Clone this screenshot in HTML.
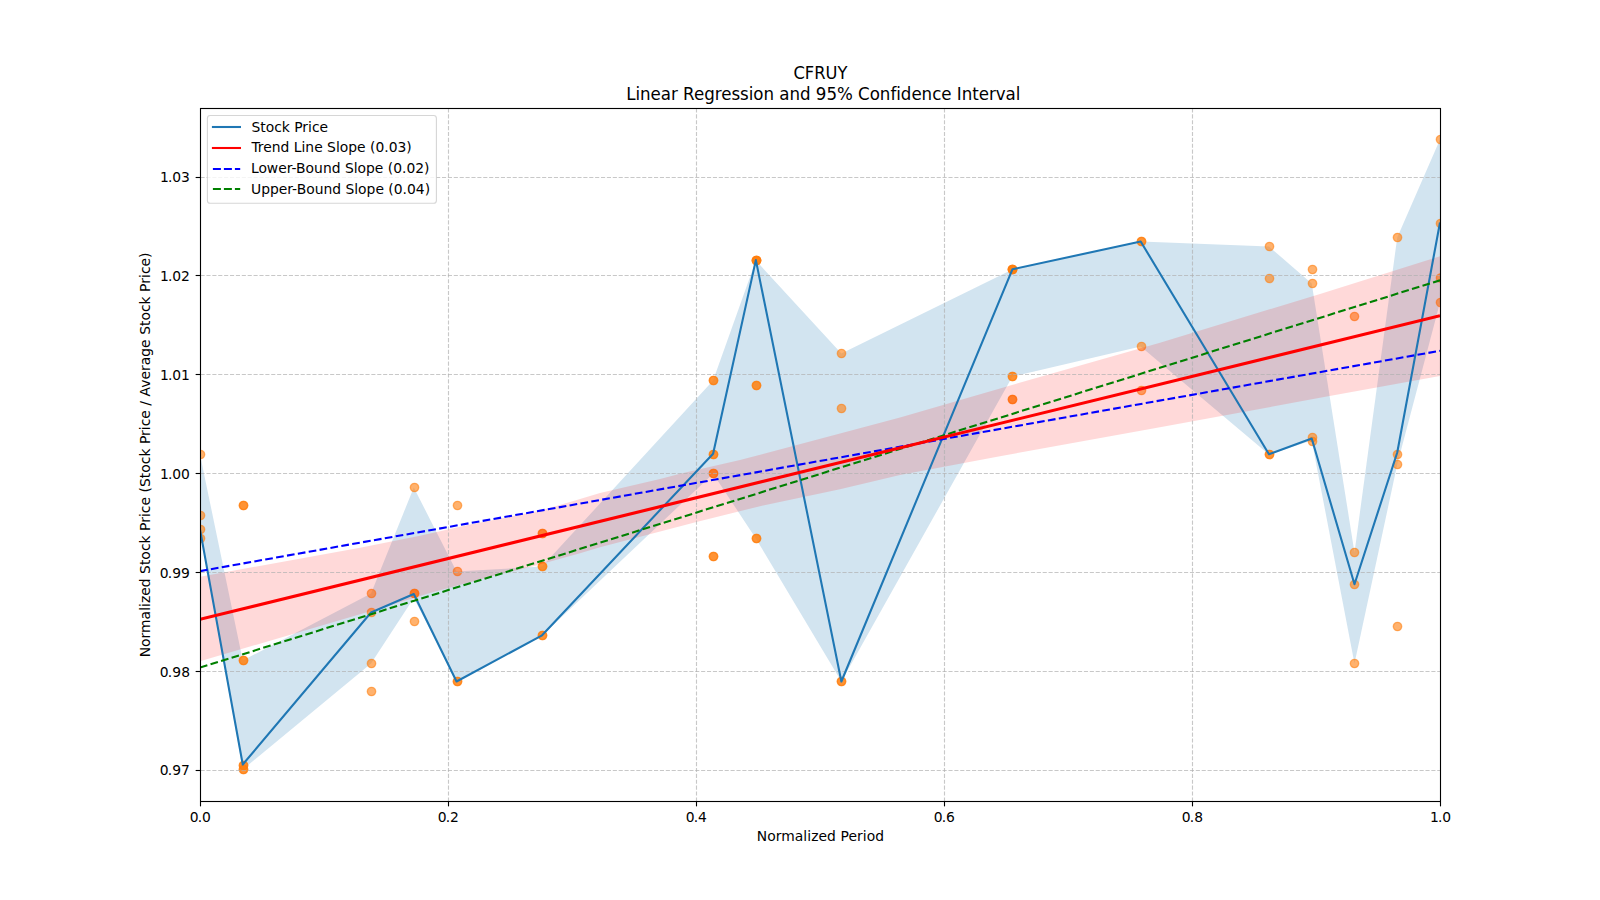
<!DOCTYPE html>
<html lang="en"><head><meta charset="utf-8"><title>CFRUY Linear Regression and 95% Confidence Interval</title>
<style>html,body{margin:0;padding:0;background:#fff;}body{width:1600px;height:900px;overflow:hidden;}svg{display:block;}text{font-family:"DejaVu Sans","Liberation Sans",sans-serif;fill:#000;}</style>
</head><body>
<svg width="1600" height="900" viewBox="0 0 1600 900">
<rect x="0" y="0" width="1600" height="900" fill="#ffffff"/>
<defs><clipPath id="ax"><rect x="200" y="108" width="1240" height="693"/></clipPath></defs>
<g clip-path="url(#ax)">
<polygon points="200.00,454.50 242.76,660.50 371.03,593.50 413.79,487.50 456.55,571.50 542.07,566.50 713.10,380.50 755.86,260.50 841.38,353.50 1012.41,269.50 1140.69,241.50 1268.97,246.50 1311.72,283.50 1354.48,552.50 1397.24,237.50 1440.00,139.50 1440.00,302.50 1397.24,464.50 1354.48,663.50 1311.72,440.50 1268.97,454.50 1140.69,346.50 1012.41,376.50 841.38,681.50 755.86,538.50 713.10,473.70 542.07,635.50 456.55,681.50 413.79,598.00 371.03,663.50 242.76,769.50 200.00,531.00" fill="#1f77b4" fill-opacity="0.2"/>
<g fill="#ff7f0e" fill-opacity="0.6" stroke="#ff7f0e" stroke-opacity="0.6" stroke-width="1.389">
<circle cx="200.5" cy="454.5" r="4.167"/>
<circle cx="200.5" cy="515.5" r="4.167"/>
<circle cx="200.5" cy="529.5" r="4.167"/>
<circle cx="200.5" cy="538.5" r="4.167"/>
<circle cx="243.5" cy="505.5" r="4.167"/>
<circle cx="243.5" cy="505.5" r="4.167"/>
<circle cx="243.5" cy="660.5" r="4.167"/>
<circle cx="243.5" cy="660.5" r="4.167"/>
<circle cx="243.5" cy="765.5" r="4.167"/>
<circle cx="243.5" cy="765.5" r="4.167"/>
<circle cx="243.5" cy="769.5" r="4.167"/>
<circle cx="243.5" cy="769.5" r="4.167"/>
<circle cx="371.5" cy="593.5" r="4.167"/>
<circle cx="371.5" cy="612.5" r="4.167"/>
<circle cx="371.5" cy="663.5" r="4.167"/>
<circle cx="371.5" cy="691.5" r="4.167"/>
<circle cx="414.5" cy="487.5" r="4.167"/>
<circle cx="414.5" cy="593.5" r="4.167"/>
<circle cx="414.5" cy="593.5" r="4.167"/>
<circle cx="414.5" cy="621.5" r="4.167"/>
<circle cx="457.5" cy="505.5" r="4.167"/>
<circle cx="457.5" cy="571.5" r="4.167"/>
<circle cx="457.5" cy="681.5" r="4.167"/>
<circle cx="457.5" cy="681.5" r="4.167"/>
<circle cx="542.5" cy="533.5" r="4.167"/>
<circle cx="542.5" cy="533.5" r="4.167"/>
<circle cx="542.5" cy="566.5" r="4.167"/>
<circle cx="542.5" cy="566.5" r="4.167"/>
<circle cx="542.5" cy="635.5" r="4.167"/>
<circle cx="542.5" cy="635.5" r="4.167"/>
<circle cx="713.5" cy="380.5" r="4.167"/>
<circle cx="713.5" cy="380.5" r="4.167"/>
<circle cx="713.5" cy="454.5" r="4.167"/>
<circle cx="713.5" cy="454.5" r="4.167"/>
<circle cx="713.5" cy="473.5" r="4.167"/>
<circle cx="713.5" cy="473.5" r="4.167"/>
<circle cx="713.5" cy="556.5" r="4.167"/>
<circle cx="713.5" cy="556.5" r="4.167"/>
<circle cx="756.5" cy="260.5" r="4.167"/>
<circle cx="756.5" cy="260.5" r="4.167"/>
<circle cx="756.5" cy="260.5" r="4.167"/>
<circle cx="756.5" cy="260.5" r="4.167"/>
<circle cx="756.5" cy="385.5" r="4.167"/>
<circle cx="756.5" cy="385.5" r="4.167"/>
<circle cx="756.5" cy="538.5" r="4.167"/>
<circle cx="756.5" cy="538.5" r="4.167"/>
<circle cx="841.5" cy="353.5" r="4.167"/>
<circle cx="841.5" cy="408.5" r="4.167"/>
<circle cx="841.5" cy="681.5" r="4.167"/>
<circle cx="841.5" cy="681.5" r="4.167"/>
<circle cx="1012.5" cy="269.5" r="4.167"/>
<circle cx="1012.5" cy="269.5" r="4.167"/>
<circle cx="1012.5" cy="269.5" r="4.167"/>
<circle cx="1012.5" cy="269.5" r="4.167"/>
<circle cx="1012.5" cy="376.5" r="4.167"/>
<circle cx="1012.5" cy="376.5" r="4.167"/>
<circle cx="1012.5" cy="399.5" r="4.167"/>
<circle cx="1012.5" cy="399.5" r="4.167"/>
<circle cx="1141.5" cy="241.5" r="4.167"/>
<circle cx="1141.5" cy="241.5" r="4.167"/>
<circle cx="1141.5" cy="346.5" r="4.167"/>
<circle cx="1141.5" cy="390.5" r="4.167"/>
<circle cx="1269.5" cy="246.5" r="4.167"/>
<circle cx="1269.5" cy="278.5" r="4.167"/>
<circle cx="1269.5" cy="454.5" r="4.167"/>
<circle cx="1269.5" cy="454.5" r="4.167"/>
<circle cx="1312.5" cy="269.5" r="4.167"/>
<circle cx="1312.5" cy="283.5" r="4.167"/>
<circle cx="1312.5" cy="437.5" r="4.167"/>
<circle cx="1312.5" cy="441.5" r="4.167"/>
<circle cx="1354.5" cy="316.5" r="4.167"/>
<circle cx="1354.5" cy="552.5" r="4.167"/>
<circle cx="1354.5" cy="584.5" r="4.167"/>
<circle cx="1354.5" cy="663.5" r="4.167"/>
<circle cx="1397.5" cy="237.5" r="4.167"/>
<circle cx="1397.5" cy="454.5" r="4.167"/>
<circle cx="1397.5" cy="464.5" r="4.167"/>
<circle cx="1397.5" cy="626.5" r="4.167"/>
<circle cx="1440.5" cy="139.5" r="4.167"/>
<circle cx="1440.5" cy="223.5" r="4.167"/>
<circle cx="1440.5" cy="278.0" r="4.167"/>
<circle cx="1440.5" cy="302.5" r="4.167"/>
</g>
<polygon points="200.00,576.80 360.00,547.70 420.00,535.80 470.00,524.60 540.00,510.70 570.00,501.90 600.00,493.00 660.00,479.00 680.00,473.80 740.00,460.00 840.00,433.60 900.00,417.50 1000.00,388.40 1160.00,342.75 1320.00,293.90 1440.00,256.20 1440.00,376.00 1320.00,397.80 1160.00,427.30 1000.00,456.20 900.00,475.00 840.00,489.30 760.00,506.20 696.50,522.00 600.00,547.30 580.00,553.25 535.00,565.75 490.00,576.80 430.00,593.00 360.00,614.20 200.00,661.30" fill="#ff0000" fill-opacity="0.15"/>
<g stroke="#b0b0b0" stroke-opacity="0.7" stroke-width="1.111" stroke-dasharray="4.111 1.778" fill="none">
<line x1="448.5" y1="801.5" x2="448.5" y2="108"/>
<line x1="696.5" y1="801.5" x2="696.5" y2="108"/>
<line x1="944.5" y1="801.5" x2="944.5" y2="108"/>
<line x1="1192.5" y1="801.5" x2="1192.5" y2="108"/>
<line x1="200.55" y1="770.5" x2="1440" y2="770.5"/>
<line x1="200.55" y1="671.5" x2="1440" y2="671.5"/>
<line x1="200.55" y1="572.5" x2="1440" y2="572.5"/>
<line x1="200.55" y1="473.5" x2="1440" y2="473.5"/>
<line x1="200.55" y1="374.5" x2="1440" y2="374.5"/>
<line x1="200.55" y1="275.5" x2="1440" y2="275.5"/>
<line x1="200.55" y1="177.5" x2="1440" y2="177.5"/>
</g>
<polyline points="200.00,529.40 242.76,764.50 371.03,612.50 413.79,594.00 456.55,681.50 542.07,635.30 713.10,453.70 755.86,260.10 841.38,681.50 1012.41,269.30 1140.69,241.50 1268.97,454.30 1311.72,438.50 1354.48,584.30 1397.24,452.50 1440.00,222.50" fill="none" stroke="#1f77b4" stroke-width="2.083" stroke-linejoin="round" stroke-linecap="butt"/>
<line x1="200" y1="571.1" x2="1440" y2="350.8" stroke="#0000ff" stroke-width="2.083" stroke-dasharray="7.708 3.333"/>
<line x1="200" y1="667.6" x2="1440" y2="280.3" stroke="#008000" stroke-width="2.083" stroke-dasharray="7.708 3.333"/>
<line x1="200" y1="619.35" x2="1440" y2="315.65" stroke="#ff0000" stroke-width="3.125"/>
</g>
<g stroke="#000" stroke-width="1.111" fill="none">
<line x1="200.5" y1="801.5" x2="200.5" y2="806.361"/>
<line x1="448.5" y1="801.5" x2="448.5" y2="806.361"/>
<line x1="696.5" y1="801.5" x2="696.5" y2="806.361"/>
<line x1="944.5" y1="801.5" x2="944.5" y2="806.361"/>
<line x1="1192.5" y1="801.5" x2="1192.5" y2="806.361"/>
<line x1="1440.5" y1="801.5" x2="1440.5" y2="806.361"/>
<line x1="200.5" y1="770.5" x2="195.639" y2="770.5"/>
<line x1="200.5" y1="671.5" x2="195.639" y2="671.5"/>
<line x1="200.5" y1="572.5" x2="195.639" y2="572.5"/>
<line x1="200.5" y1="473.5" x2="195.639" y2="473.5"/>
<line x1="200.5" y1="374.5" x2="195.639" y2="374.5"/>
<line x1="200.5" y1="275.5" x2="195.639" y2="275.5"/>
<line x1="200.5" y1="177.5" x2="195.639" y2="177.5"/>
</g>
<rect x="200.5" y="108.5" width="1240" height="693" fill="none" stroke="#000" stroke-width="1.111"/>
<g font-size="13.889px">
<text x="189.83 197.81 201.94" y="822">0.0</text>
<text x="437.83 445.81 449.97" y="822">0.2</text>
<text x="685.83 693.81 698.12" y="822">0.4</text>
<text x="933.83 941.81 946.06" y="822">0.6</text>
<text x="1181.83 1189.81 1194.17" y="822">0.8</text>
<text x="1430.12 1437.91 1442.26" y="822">1.0</text>
<text x="159.82 167.85 172.19 180.98" y="775">0.97</text>
<text x="159.82 167.85 172.19 181.13" y="677">0.98</text>
<text x="159.82 167.85 172.19 180.97" y="578">0.99</text>
<text x="159.94 167.95 172.26 180.91" y="479">1.00</text>
<text x="159.94 167.95 172.26 181.03" y="380">1.01</text>
<text x="159.94 167.95 172.26 180.94" y="281">1.02</text>
<text x="159.94 167.95 172.26 181.06" y="182">1.03</text>
<text x="820.4" y="841" text-anchor="middle" letter-spacing="0.06">Normalized Period</text>
<text transform="translate(150,454.9) rotate(-90)" text-anchor="middle" letter-spacing="0.03">Normalized Stock Price (Stock Price / Average Stock Price)</text>
</g>
<g font-size="16.667px">
<text transform="translate(820.4,79.2) scale(0.978,1.06)" text-anchor="middle">CFRUY</text>
<text transform="translate(823.3,99.9) scale(1,1.04)" text-anchor="middle" letter-spacing="-0.024">Linear Regression and 95% Confidence Interval</text>
</g>
<rect x="207.4" y="115.5" width="229" height="87.8" rx="2.8" ry="2.8" fill="#ffffff" fill-opacity="0.8" stroke="#cccccc" stroke-opacity="0.8" stroke-width="1.111"/>
<line x1="211.9" y1="127.0" x2="241.0" y2="127.0" stroke="#1f77b4" stroke-width="2.083"/>
<line x1="211.9" y1="148.0" x2="241.0" y2="148.0" stroke="#ff0000" stroke-width="2.083"/>
<line x1="212.9" y1="169.0" x2="240.2" y2="169.0" stroke="#0000ff" stroke-width="2.083" stroke-dasharray="8 3"/>
<line x1="212.9" y1="189.0" x2="240.2" y2="189.0" stroke="#008000" stroke-width="2.083" stroke-dasharray="8 3"/>
<g font-size="13.889px">
<text x="251.4" y="132">Stock Price</text>
<text x="251.4" y="152.0">Trend Line Slope (0.03)</text>
<text x="250.9" y="173.2">Lower-Bound Slope (0.02)</text>
<text x="251.0" y="194.0">Upper-Bound Slope (0.04)</text>
</g>
</svg></body></html>
